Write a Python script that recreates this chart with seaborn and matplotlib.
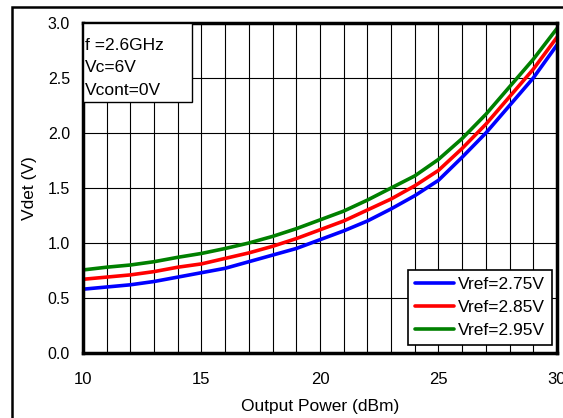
import numpy as np
import pandas as pd
import matplotlib
matplotlib.use('Agg')
import matplotlib.pyplot as plt
import matplotlib.patches as patches
import seaborn as sns

# Output power (dBm) and detector voltage (V)
power = [10, 11, 12, 13, 14, 15, 16, 17, 18, 19, 20, 21, 22, 23, 24, 25, 26, 27, 28, 29, 30]
vdet_275 = [0.58, 0.60, 0.62, 0.65, 0.69, 0.73, 0.77, 0.83, 0.89, 0.95, 1.03, 1.11, 1.20, 1.31,
            1.43, 1.57, 1.78, 2.00, 2.25, 2.50, 2.80]
vdet_285 = [0.67, 0.69, 0.71, 0.74, 0.78, 0.81, 0.86, 0.91, 0.97, 1.04, 1.12, 1.20, 1.30, 1.40,
            1.52, 1.66, 1.86, 2.08, 2.33, 2.58, 2.87]
vdet_295 = [0.755, 0.78, 0.80, 0.83, 0.87, 0.905, 0.95, 1.00, 1.06, 1.13, 1.21, 1.29, 1.39, 1.50,
            1.61, 1.76, 1.95, 2.17, 2.42, 2.67, 2.95]
labels = ['Vref=2.75V', 'Vref=2.85V', 'Vref=2.95V']
colors = ['#0000ff', '#ff0000', '#008000']
conditions = ['f =2.6GHz', 'Vc=6V', 'Vcont=0V']

df = pd.concat([
    pd.DataFrame({'power': power, 'vdet': v, 'series': lab})
    for v, lab in zip([vdet_275, vdet_285, vdet_295], labels)
])

sns.set_style('white')
plt.rcParams['font.family'] = ['Liberation Sans', 'DejaVu Sans']
plt.rcParams['text.color'] = 'black'
plt.rcParams['axes.labelcolor'] = 'black'

fig = plt.figure(figsize=(5.63, 4.18), dpi=100)
ax = fig.add_axes([0.1474, 0.1555, 0.8419, 0.7895])

# outer frame of the figure
fig.patches.append(patches.Rectangle((12 / 563, -0.1), 1.0, 1.1 - 7 / 418,
                                     transform=fig.transFigure, fill=False,
                                     edgecolor='black', linewidth=1.8, zorder=0))

sns.lineplot(data=df, x='power', y='vdet', hue='series', palette=colors,
             linewidth=2.6, ax=ax, legend=True)

ax.set_xlim(10, 30)
ax.set_ylim(0, 3.0)
ax.set_xticks([10, 15, 20, 25, 30])
ax.set_xticks(np.arange(10, 31, 1), minor=True)
ax.set_yticks(np.arange(0, 3.01, 0.5))
ax.set_yticklabels([f'{v:.1f}' for v in np.arange(0, 3.01, 0.5)])
ax.grid(True, which='both', axis='x', color='black', linewidth=0.8)
ax.grid(True, which='major', axis='y', color='black', linewidth=0.8)
ax.tick_params(axis='both', which='major', direction='in', length=4, width=1.5,
               colors='black', labelcolor='black')
ax.tick_params(axis='x', which='major', labelsize=12, pad=14)
ax.tick_params(axis='y', which='major', labelsize=11.5, pad=9.4)
ax.tick_params(axis='x', which='minor', direction='in', length=0)
for s in ax.spines.values():
    s.set_linewidth(2.5)
    s.set_color('black')

ax.set_xlabel('Output Power (dBm)', fontsize=12.5, labelpad=8)
ax.set_ylabel('Vdet (V)', fontsize=12.5, labelpad=8)

# conditions box in the upper-left corner
ax.add_patch(patches.Rectangle((0, 1 - 0.239), 0.23, 0.239, transform=ax.transAxes,
                               facecolor='white', edgecolor='black', linewidth=1, zorder=5))
for i, line in enumerate(conditions):
    ax.text(0.005, 0.918 - i * 0.068, line, transform=ax.transAxes, fontsize=12.5,
            va='baseline', ha='left', zorder=6)

leg = ax.legend(loc='lower right', fontsize=12.5, frameon=True, fancybox=False,
                edgecolor='black', handlelength=2.25, handletextpad=0.2,
                borderpad=0.4, labelspacing=0.45, bbox_to_anchor=(0.989, 0.024),
                borderaxespad=0)
leg.get_frame().set_linewidth(1.2)
leg.get_frame().set_alpha(1)

fig.savefig('out.png', dpi=100)
